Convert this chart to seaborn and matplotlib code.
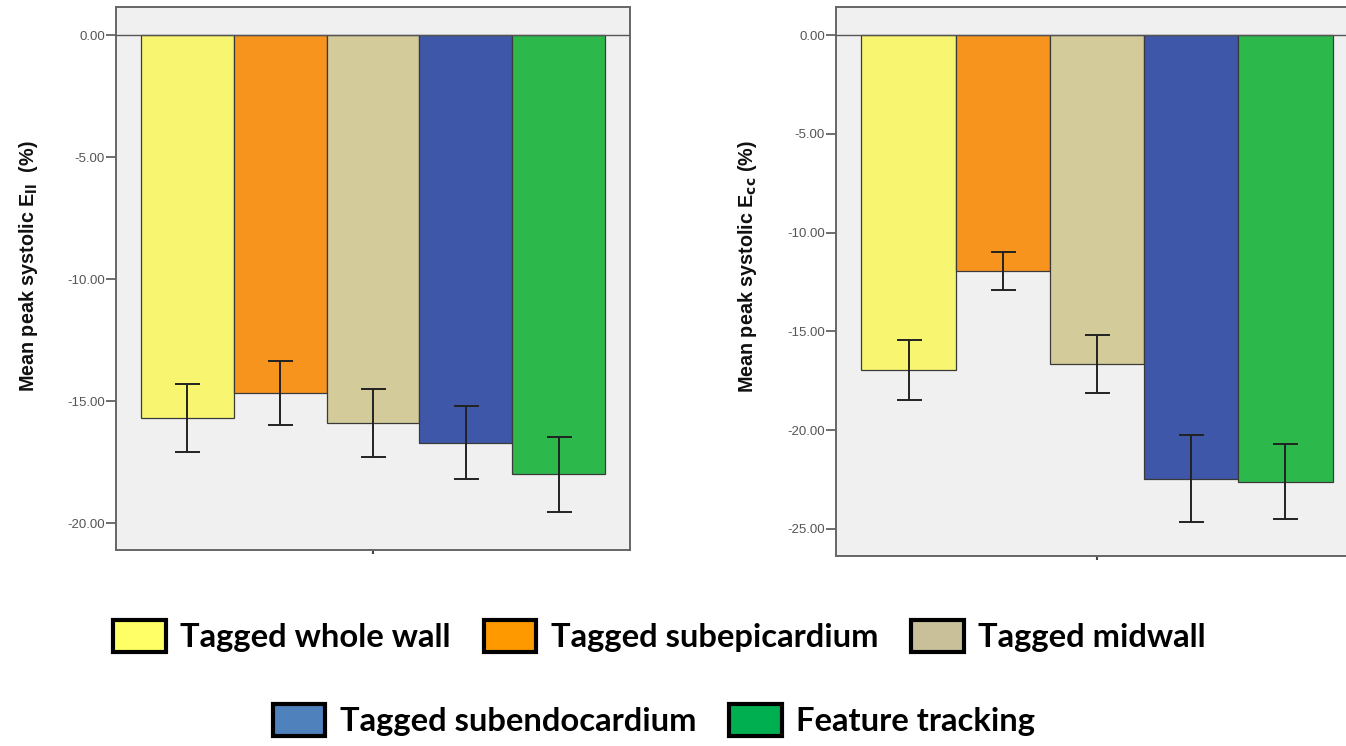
import matplotlib
matplotlib.use("Agg")
import matplotlib.pyplot as plt
import matplotlib.patches as mpatches
import seaborn as sns
import pandas as pd
import numpy as np

categories = ["Tagged whole wall", "Tagged subepicardium", "Tagged midwall",
              "Tagged subendocardium", "Feature tracking"]
ell_mean = [-15.7, -14.67, -15.9, -16.7, -18.0]
ell_err = [1.4, 1.3, 1.4, 1.5, 1.55]
ecc_mean = [-16.95, -11.94, -16.65, -22.47, -22.6]
ecc_err = [1.5, 0.95, 1.45, 2.2, 1.9]
left_ticks = [0, -5, -10, -15, -20]
right_ticks = [0, -5, -10, -15, -20, -25]

bar_colors = ["#F8F571", "#F7941E", "#D3CC9A", "#3F57A9", "#2DB84B"]
legend_colors = ["#FFFF66", "#FF9900", "#C9BF99", "#4F81BD", "#00B050"]

sns.set_style("white")
plt.rcParams['font.family'] = ['Liberation Sans', 'DejaVu Sans']

fig = plt.figure(figsize=(13.46, 7.46), dpi=100)
W, H = 1346, 746
def rect(x0, y0, x1, y1):
    return [x0 / W, 1 - y1 / H, (x1 - x0) / W, (y1 - y0) / H]

ax1 = fig.add_axes(rect(116, 7, 630, 550))
ax2 = fig.add_axes(rect(836, 7, 1358, 556))

def draw(ax, means, errs, ticks, ylim, ylabel):
    df = pd.DataFrame({"cat": categories, "val": means})
    sns.barplot(data=df, x="cat", y="val", hue="cat", palette=bar_colors,
                saturation=1, width=1.0, edgecolor="#3a3a3a", linewidth=0.9,
                errorbar=None, legend=False, ax=ax, zorder=2)
    ax.errorbar(np.arange(len(means)), means, yerr=errs, fmt="none",
                ecolor="#222222", elinewidth=1.4, capsize=9, capthick=1.4, zorder=3)
    ax.axhline(0, color="#555555", lw=1.0, zorder=4)
    ax.set_facecolor("#F0F0F0")
    ax.set_xlim(-0.77, 4.77)
    ax.set_ylim(*ylim)
    ax.set_yticks(ticks)
    ax.set_yticklabels([f"{t:.2f}" for t in ticks], color="#555555", fontsize=9.5)
    ax.set_xticks([2])
    ax.set_xticklabels([""])
    ax.tick_params(axis="y", direction="out", length=7, width=1.2, color="#555555", left=True, pad=1)
    ax.tick_params(axis="x", direction="out", length=3, width=1.5, color="#444444", bottom=True)
    ax.set_xlabel("")
    ax.set_ylabel(ylabel, fontsize=14.2, fontweight="bold", color="#111111")
    for s in ax.spines.values():
        s.set_color("#666666")
        s.set_linewidth(1.4)

draw(ax1, ell_mean, ell_err, left_ticks, (-21.1, 1.15),
     r"Mean peak systolic E$_{\mathbf{ll}}$  (%)")
draw(ax2, ecc_mean, ecc_err, right_ticks, (-26.37, 1.42),
     r"Mean peak systolic E$_{\mathbf{cc}}$ (%)")
ax1.yaxis.set_label_coords(-0.147, 0.522)
ax2.yaxis.set_label_coords(-0.148, 0.527)

handles = [mpatches.Patch(facecolor=c, edgecolor="black", linewidth=3, label=l)
           for c, l in zip(legend_colors, categories)]
legkw = dict(frameon=False, handlelength=1.6, handleheight=1.15, handletextpad=0.45,
             columnspacing=1.0, labelcolor="black",
             prop={"family": "Lato", "weight": "bold", "size": 23.6})
fig.legend(handles=handles[:3], ncol=3, loc="center", bbox_to_anchor=(0.49, 1 - 636 / H), **legkw)
fig.legend(handles=handles[3:], ncol=2, loc="center", bbox_to_anchor=(0.486, 1 - 720 / H), **legkw)

fig.savefig("out.png", dpi=100)
